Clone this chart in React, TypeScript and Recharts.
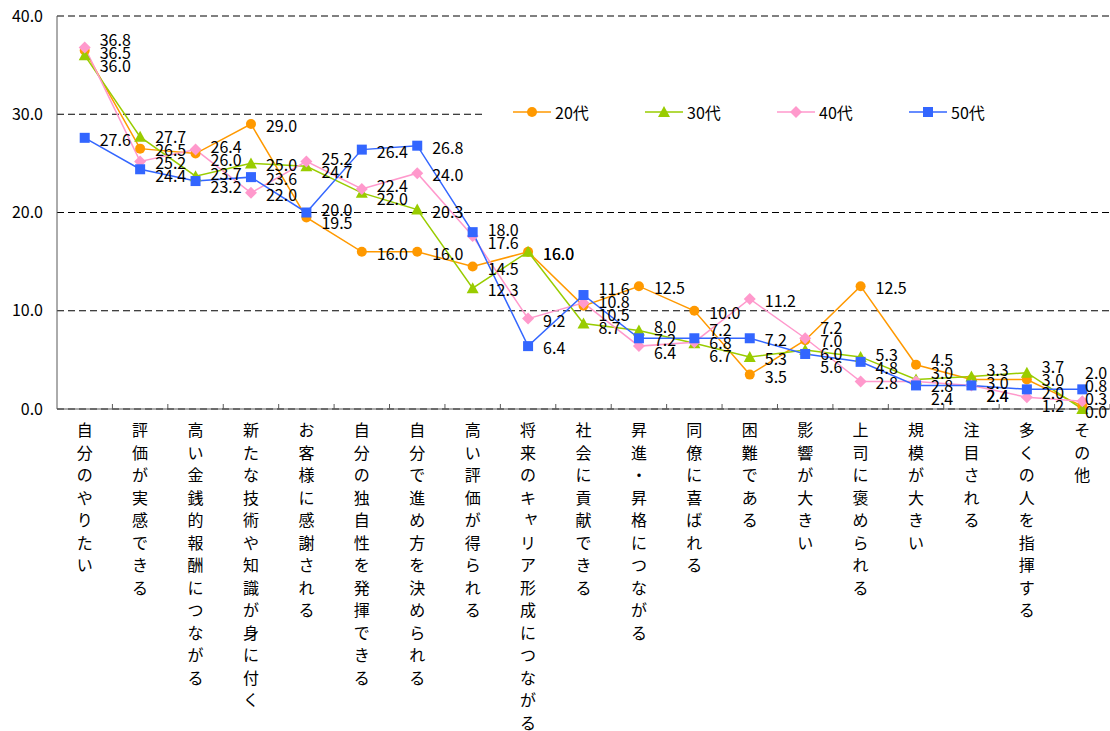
import React from "react";
import { LineChart, Line, XAxis, YAxis, CartesianGrid, LabelList, Legend } from "recharts";

const categories = [
  "自分のやりたい",
  "評価が実感できる",
  "高い金銭的報酬につながる",
  "新たな技術や知識が身に付く",
  "お客様に感謝される",
  "自分の独自性を発揮できる",
  "自分で進め方を決められる",
  "高い評価が得られる",
  "将来のキャリア形成につながる",
  "社会に貢献できる",
  "昇進・昇格につながる",
  "同僚に喜ばれる",
  "困難である",
  "影響が大きい",
  "上司に褒められる",
  "規模が大きい",
  "注目される",
  "多くの人を指揮する",
  "その他",
];

const age20 = [36.5, 26.5, 26.0, 29.0, 19.5, 16.0, 16.0, 14.5, 16.0, 10.5, 12.5, 10.0, 3.5, 7.0, 12.5, 4.5, 3.0, 3.0, 0.3];
const age30 = [36.0, 27.7, 23.7, 25.0, 24.7, 22.0, 20.3, 12.3, 16.0, 8.7, 8.0, 6.7, 5.3, 6.0, 5.3, 3.0, 3.3, 3.7, 0.0];
const age40 = [36.8, 25.2, 26.4, 22.0, 25.2, 22.4, 24.0, 17.6, 9.2, 10.8, 6.4, 6.8, 11.2, 7.2, 2.8, 2.8, 2.4, 1.2, 0.8];
const age50 = [27.6, 24.4, 23.2, 23.6, 20.0, 26.4, 26.8, 18.0, 6.4, 11.6, 7.2, 7.2, 7.2, 5.6, 4.8, 2.4, 2.4, 2.0, 2.0];

const yTicks = [0, 10, 20, 30, 40];

type Shape = "circle" | "triangle" | "diamond" | "square";

const series: { key: string; name: string; color: string; shape: Shape; values: number[] }[] = [
  { key: "age20", name: "20代", color: "#FF9900", shape: "circle", values: age20 },
  { key: "age30", name: "30代", color: "#99CC00", shape: "triangle", values: age30 },
  { key: "age40", name: "40代", color: "#FF99CC", shape: "diamond", values: age40 },
  { key: "age50", name: "50代", color: "#3366FF", shape: "square", values: age50 },
];

const data = categories.map((name, i) => {
  const row: Record<string, string | number> = { name };
  series.forEach((s) => (row[s.key] = s.values[i]));
  return row;
});

// layout
const W = 1110;
const H = 731;
const TOP = 16;
const Y_W = 57;
const X_H = 322;
const PLOT_H = H - TOP - X_H;
const PX_PER_UNIT = PLOT_H / 40;
const BAND = (W - Y_W) / categories.length;
const FONT = '"Noto Sans CJK JP", "Noto Sans", sans-serif';

// spread labels of one category apart so they don't pile on each other
const SEP = 13;
function computeLabelOffsets() {
  const offsets = series.map(() => categories.map(() => 0));
  categories.forEach((_, i) => {
    const uniq = Array.from(new Set(series.map((s) => s.values[i]))).sort((a, b) => b - a);
    const py = uniq.map((v) => TOP + PLOT_H - v * PX_PER_UNIT);
    let clusters = py.map((y) => [y]);
    const place = (c: number[]) => {
      const mean = c.reduce((a, b) => a + b, 0) / c.length;
      return c.map((_, j) => mean + (j - (c.length - 1) / 2) * SEP);
    };
    let merged = true;
    while (merged) {
      merged = false;
      for (let k = 0; k < clusters.length - 1; k++) {
        const a = place(clusters[k]);
        const b = place(clusters[k + 1]);
        if (b[0] - a[a.length - 1] < SEP) {
          clusters.splice(k, 2, [...clusters[k], ...clusters[k + 1]]);
          merged = true;
          break;
        }
      }
    }
    const pos = clusters.flatMap(place);
    let limit = TOP + PLOT_H + 1;
    for (let j = pos.length - 1; j >= 0; j--) {
      if (pos[j] > limit) pos[j] = limit;
      limit = pos[j] - SEP;
    }
    series.forEach((s, si) => {
      const u = uniq.indexOf(s.values[i]);
      offsets[si][i] = pos[u] - py[u];
    });
  });
  return offsets;
}
const labelOffsets = computeLabelOffsets();

function Marker({ shape, color, cx, cy }: { shape: Shape; color: string; cx: number; cy: number }) {
  if (shape === "circle") return <circle cx={cx} cy={cy} r={5} fill={color} />;
  if (shape === "triangle")
    return <polygon points={`${cx},${cy - 6} ${cx - 6},${cy + 5} ${cx + 6},${cy + 5}`} fill={color} />;
  if (shape === "diamond")
    return <polygon points={`${cx},${cy - 6} ${cx + 6},${cy} ${cx},${cy + 6} ${cx - 6},${cy}`} fill={color} />;
  return <rect x={cx - 5} y={cy - 5} width={10} height={10} fill={color} />;
}

const makeDot = (shape: Shape, color: string) => (props: any) => {
  const { cx, cy, index } = props;
  return <Marker key={`${shape}-${index}`} shape={shape} color={color} cx={cx} cy={cy} />;
};

const makeLabel = (si: number) => (props: any) => {
  const x = props.x ?? props.viewBox?.x;
  const y = props.y ?? props.viewBox?.y;
  const idx = props.index ?? 0;
  return (
    <text
      x={Math.min(x + 15, W - 25)}
      y={y + labelOffsets[si][idx] + 1}
      dominantBaseline="central"
      fontSize={16}
      fill="#000"
      fontFamily={FONT}
    >
      {Number(props.value).toFixed(1)}
    </text>
  );
};

const SMALL_KANA = "ゃゅょっャュョッァィゥェォ";

const CategoryTick = (props: any) => {
  const { x, y, payload } = props;
  const chars = Array.from(String(payload.value));
  return (
    <g>
      <line x1={x + BAND / 2} x2={x + BAND / 2} y1={y - 5} y2={y} stroke="#595959" />
      {chars.map((c, i) => {
        const small = SMALL_KANA.includes(c);
        return (
          <text
            key={i}
            x={x + (small ? 3 : 0)}
            y={y + 20 + i * 22.5 - (small ? 3 : 0)}
            textAnchor="middle"
            dominantBaseline="central"
            fontSize={16}
            fill="#000"
            fontFamily={FONT}
          >
            {c}
          </text>
        );
      })}
    </g>
  );
};

const LegendBox = () => (
  <div style={{ display: "flex", alignItems: "center", height: 32, paddingLeft: 28, fontFamily: FONT }}>
    {series.map((s) => (
      <div key={s.key} style={{ display: "flex", alignItems: "center", width: 132 }}>
        <svg width={38} height={16}>
          <line x1={0} x2={38} y1={8} y2={8} stroke={s.color} strokeWidth={1.5} />
          <Marker shape={s.shape} color={s.color} cx={19} cy={8} />
        </svg>
        <span style={{ marginLeft: 4, fontSize: 16, color: "#000" }}>{s.name}</span>
      </div>
    ))}
  </div>
);

export default function App() {
  return (
    <div style={{ position: "absolute", left: 0, top: 0, width: W, height: H, background: "#fff" }}>
      <LineChart
        width={W}
        height={H}
        data={data}
        margin={{ top: TOP, right: 0, left: 0, bottom: 0 }}
        style={{ fontFamily: FONT }}
      >
        <CartesianGrid vertical={false} stroke="#000" strokeDasharray="7 4" />
        <XAxis
          dataKey="name"
          scale="band"
          interval={0}
          height={X_H}
          tickLine={false}
          tickSize={0}
          tickMargin={0}
          axisLine={{ stroke: "#595959" }}
          tick={<CategoryTick />}
        />
        <YAxis
          domain={[0, 40]}
          ticks={yTicks}
          width={Y_W}
          tickLine={false}
          tickSize={0}
          tickMargin={14}
          axisLine={{ stroke: "#595959" }}
          tickFormatter={(v: number) => v.toFixed(1)}
          tick={{ fontSize: 16, fill: "#000" }}
        />
        <Legend
          layout="horizontal"
          verticalAlign="middle"
          align="center"
          wrapperStyle={{ left: 485, top: 96, width: 625, height: 32, background: "#fff" }}
          content={() => <LegendBox />}
        />
        {series.map((s, si) => (
          <Line
            key={s.key}
            dataKey={s.key}
            name={s.name}
            stroke={s.color}
            strokeWidth={1.5}
            dot={makeDot(s.shape, s.color)}
            activeDot={false}
            isAnimationActive={false}
          >
            <LabelList dataKey={s.key} content={makeLabel(si)} />
          </Line>
        ))}
      </LineChart>
    </div>
  );
}
